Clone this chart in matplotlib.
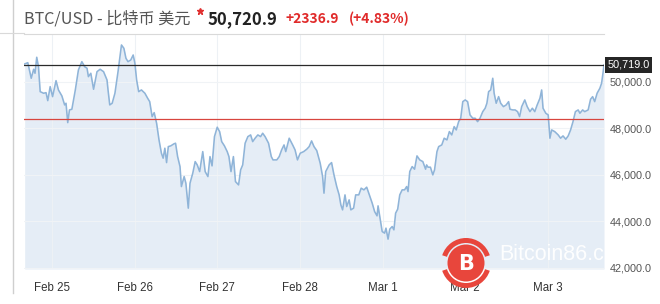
import matplotlib
matplotlib.use('Agg')
import matplotlib.pyplot as plt
from matplotlib.patches import Circle, Wedge
import matplotlib.transforms as mtrans

# hours since Feb 24 00:00
hours = [16.1, 17.0, 18.0, 18.7, 19.1, 19.6, 20.1, 20.6, 21.6, 22.3, 22.8, 23.5, 24.2, 25.2, 25.9,
         26.9, 27.7, 28.1, 28.6, 29.1, 29.8, 30.8, 31.7, 32.7, 33.5, 34.2, 34.6, 35.3, 36.1, 37.1,
         38.0, 39.0, 40.0, 40.3, 40.8, 41.5, 42.3, 43.2, 44.2, 44.9, 45.5, 46.1, 46.9, 47.6, 48.1,
         48.6, 49.2, 50.0, 51.0, 51.8, 52.4, 53.1, 53.7, 54.4, 55.1, 55.8, 56.3, 56.8, 57.3, 57.8,
         58.5, 59.4, 59.9, 60.5, 61.2, 61.6, 62.4, 62.9, 63.6, 64.1, 64.9, 65.6, 66.2, 66.9, 67.8,
         68.5, 69.3, 69.9, 70.5, 71.2, 72.0, 72.7, 73.3, 74.1, 74.9, 75.4, 76.0, 76.7, 77.3, 78.2,
         78.8, 79.4, 80.1, 80.9, 81.7, 82.3, 83.0, 83.8, 84.6, 85.2, 85.9, 86.9, 87.7, 88.2, 89.3,
         90.0, 90.7, 91.4, 91.9, 92.9, 93.9, 94.6, 95.3, 96.1, 97.1, 98.0, 98.7, 99.4, 100.1, 100.9,
         101.9, 102.6, 103.0, 103.5, 104.5, 105.2, 105.9, 106.7, 107.4, 107.9, 108.4, 109.1, 109.6,
         110.3, 110.8, 111.6, 112.2, 113.1, 113.8, 114.6, 115.4, 116.0, 117.0, 117.7, 118.4, 118.7,
         119.2, 119.9, 120.6, 121.0, 121.6, 122.1, 122.8, 123.3, 123.8, 124.4, 125.0, 125.7, 126.4,
         127.0, 127.4, 127.9, 128.6, 129.3, 130.0, 130.8, 131.7, 132.5, 132.8, 133.2, 133.9, 134.6,
         135.1, 135.8, 136.3, 137.2, 137.9, 138.7, 139.4, 140.1, 140.8, 141.4, 142.1, 142.7, 143.3,
         144.0, 144.7, 145.4, 146.2, 146.9, 147.6, 148.3, 149.1, 149.8, 150.3, 150.8, 151.4, 152.0,
         152.4, 153.0, 153.7, 154.3, 155.1, 155.9, 156.6, 157.0, 157.8, 158.5, 159.2, 159.8, 160.4,
         161.3, 162.0, 162.8, 163.5, 164.2, 164.9, 165.7, 166.2, 166.6, 167.4, 168.1, 168.6, 169.1,
         170.0, 171.0, 171.7, 172.4, 173.2, 173.9, 174.6, 175.3, 176.0, 176.8, 177.3, 178.1, 178.7,
         179.7, 180.4, 181.0, 181.6, 182.3, 183.1, 183.6, 184.0, 184.3]

prices = [50760, 50815, 50146, 50532, 50360, 51047, 50644, 49571, 49502, 49528, 49185, 49786, 49357, 50043, 49644,
          49387, 49001, 49073, 48241, 48786, 48816, 49644, 50502, 50858, 50644, 50575, 50215, 50360, 49674, 50429,
          50532, 50429, 50073, 49644, 49001, 49073, 49502, 50429, 51575, 51433, 51004, 50858, 50931, 51145, 50789,
          50073, 49571, 49644, 49502, 49288, 49142, 48499, 48670, 48215, 47499, 46928, 46714, 47143, 46525, 47212,
          47242, 47327, 47357, 46783, 46354, 45496, 45925, 45641, 44569, 45641, 46070, 46568, 46426, 46139, 46997,
          46139, 45925, 46783, 46384, 47641, 48044, 47855, 47426, 47242, 46997, 46783, 46139, 46783, 45710, 45568,
          46212, 46426, 47357, 47641, 47713, 47426, 47572, 47713, 47641, 47786, 47641, 47357, 46783, 46641, 46641,
          46783, 47070, 47284, 46997, 47572, 47284, 47070, 46641, 46928, 46997, 47100, 47212, 47456, 47212, 47040,
          46499, 45925, 45212, 46139, 46426, 46525, 45997, 45496, 45139, 44710, 44496, 45139, 44638,
          44925, 44496, 44569, 45139, 45139, 45427, 45354, 45470, 45212, 44783, 44423, 44239, 44668,
          44209, 43565, 43496, 43711, 43239, 43668, 43780, 43638, 44354, 44526, 45139, 45354, 45354,
          45496, 45281, 46139, 46354, 46242, 46813, 46641, 46568, 46242, 46426, 46328, 46328, 45997,
          46212, 46997, 47212, 47284, 47572, 47499, 47855, 47713, 48070, 47928, 48284, 48430, 49142,
          49215, 49142, 48571, 48430, 48430, 48284, 48430, 48713, 48859, 49073, 49571, 49644, 50146,
          49502, 49073, 49357, 49073, 48928, 49000, 49142, 48816, 48786, 48786, 48713, 48499, 48928,
          49215, 48928, 48713, 48859, 48713, 49000, 49288, 49644, 48859, 48644, 48571, 47572, 47928,
          47855, 47713, 47572, 47671, 47529, 47671, 47928, 48284, 48713, 48786, 48644, 48786, 48713,
          48786, 49245, 49357, 49142, 49502, 49717, 49931, 50360, 50720.9]

prev_close = 48384.0
ref_level = 50719.0
last_price = 50720.9
change = 2336.9
change_pct = 4.83
yticks = [42000, 44000, 46000, 48000, 50000]
xtick_hours = [24, 48, 72, 96, 120, 144, 168]
xtick_labels = ['Feb 25', 'Feb 26', 'Feb 27', 'Feb 28', 'Mar 1', 'Mar 2', 'Mar 3']

W, H = 660, 304
fig = plt.figure(figsize=(W / 100, H / 100), dpi=100)
fig.patch.set_facecolor('white')

ax_l, ax_r, ax_t, ax_b = 24, 604, 34, 269
ax = fig.add_axes([ax_l / W, 1 - ax_b / H, (ax_r - ax_l) / W, (ax_b - ax_t) / H])
ymin, ymax = 41957, 52046
ax.set_xlim(15.9, 184.3)
ax.set_ylim(ymin, ymax)
ax.set_facecolor('white')

ax.fill_between(hours, prices, ymin, color='#e5edf6', lw=0, zorder=1)
for t in xtick_hours:
    ax.axvline(t, color='#edf1f5', lw=0.8, zorder=2)
for v in yticks:
    ax.axhline(v, color='#f0f3f6', lw=0.8, zorder=2)
ax.plot(hours, prices, color='#8fb4d8', lw=1.15, zorder=3)
ax.axhline(ref_level, color='#2a2a2a', lw=0.9, zorder=4)
ax.axhline(prev_close, color='#d8453e', lw=0.9, zorder=4)

for s in ['left', 'right', 'bottom']:
    ax.spines[s].set_visible(False)
ax.spines['top'].set_color('#d9d9d9')
ax.spines['top'].set_linewidth(0.8)

ax.yaxis.tick_right()
ax.set_yticks(yticks)
ax.set_yticklabels([f'{v:,.1f}' for v in yticks], family='Liberation Sans', fontsize=7.8, color='#555555')
ax.set_xticks(xtick_hours)
ax.set_xticklabels(xtick_labels, family='Liberation Sans', fontsize=8.3, color='#333333')
ax.tick_params(axis='y', length=0, pad=4)
ax.tick_params(axis='x', length=0, pad=9.5)

trans = mtrans.blended_transform_factory(ax.transAxes, ax.transData)
ax.text(1.006, ref_level, f'{ref_level:,.1f}', transform=trans, ha='left', va='center',
        family='Liberation Sans', fontsize=7.8, color='white', zorder=6, clip_on=False,
        bbox=dict(boxstyle='square,pad=0.25', fc='#262626', ec='none'))

# watermark text (clipped by axes)
ax.text(154.0, 42560, 'Bitcoin86.com', ha='left', va='center', family='Liberation Sans',
        fontsize=15.5, color='white', alpha=0.95, zorder=5, clip_on=True)

# overlay in pixel coordinates
ov = fig.add_axes([0, 0, 1, 1], zorder=10)
ov.set_xlim(0, W)
ov.set_ylim(H, 0)
ov.axis('off')
ov.patch.set_alpha(0)

ov.plot([13, 13], [0, 293], color='#cfcfcf', lw=1.0)
ov.plot([0, 24], [33, 33], color='#d9d9d9', lw=0.8)

cjk = ['Noto Sans CJK SC', 'DejaVu Sans']
ov.text(24, 19, 'BTC/USD - 比特币 美元', family=cjk, fontsize=11.6, color='#555555', ha='left', va='center')
ov.plot([200], [11], marker='*', color='#e03030', markersize=5)
ov.text(208, 19, f'{last_price:,.1f}', family=cjk, fontsize=12, fontweight='bold', color='#222222',
        ha='left', va='center')
ov.text(286, 19, f'+{change:.1f}', family=cjk, fontsize=10, fontweight='bold', color='#e02a2a',
        ha='left', va='center')
ov.text(349, 19, f'(+{change_pct:.2f}%)', family=cjk, fontsize=10, fontweight='bold', color='#e02a2a',
        ha='left', va='center')

# logo
red = '#e8463c'
cx, cy = 466, 263
ov.add_patch(Wedge((cx, cy), 25, 18, 162, width=5, color=red, lw=0))
ov.add_patch(Wedge((cx, cy), 25, 198, 342, width=5, color=red, lw=0))
ov.add_patch(Circle((cx, cy), 18.5, color=red, lw=0))
ov.text(cx, cy + 1, 'B', family='DejaVu Sans', fontsize=15, fontweight='bold', color='white',
        ha='center', va='center')

fig.savefig('out.png', dpi=100)
